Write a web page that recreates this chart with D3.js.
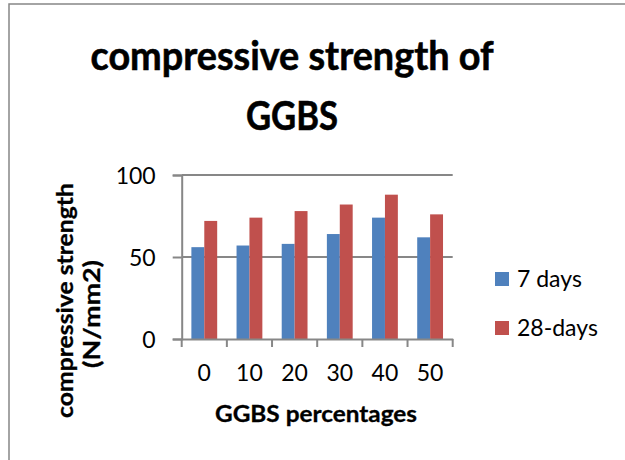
<!DOCTYPE html>
<html>
<head>
<meta charset="utf-8">
<script src="https://cdn.jsdelivr.net/npm/d3@7"></script>
<style>
  html, body { margin: 0; padding: 0; background: #fff; }
  svg { display: block; }
  text { font-family: Lato, "Open Sans", sans-serif; fill: #000; }
</style>
</head>
<body>
<script>
// ---- data ----
const categories = ["0", "10", "20", "30", "40", "50"];
const seriesNames = ["7 days", "28-days"];
const days7 = [56, 57, 58, 64, 74, 62];
const days28 = [72, 74, 78, 82, 88, 76];
const yTicks = [0, 50, 100];
const colors = ["#4F81BD", "#C0504D"];
const titleLines = ["compressive strength of", "GGBS"];
const yTitleLines = ["compressive strength", "(N/mm2)"];
const xTitle = "GGBS percentages";

const seriesValues = [days7, days28];
const W = 625, H = 460;
const plot = { left: 181.7, right: 452.7, top: 175, bottom: 339 };
const gridColor = "#878787";

const svg = d3.select("body").append("svg").attr("width", W).attr("height", H);

// outer chart border (extends past the bottom-right of the window)
svg.append("rect").attr("x", 9).attr("y", 4).attr("width", W).attr("height", H)
  .attr("fill", "#fff").attr("stroke", gridColor).attr("stroke-width", 1.5);

const x0 = d3.scaleBand().domain(categories).range([plot.left, plot.right]).paddingInner(0).paddingOuter(0);
const x1 = d3.scaleBand().domain(seriesNames).range([0, x0.bandwidth()]).paddingInner(0).paddingOuter(0.75);
const y = d3.scaleLinear().domain([0, 100]).range([plot.bottom, plot.top]);

// gridlines
svg.append("g").selectAll("line").data(yTicks.filter(d => d > 0)).join("line")
  .attr("x1", plot.left).attr("x2", plot.right)
  .attr("y1", d => y(d)).attr("y2", d => y(d))
  .attr("stroke", gridColor).attr("stroke-width", 2);

// bars
const groups = svg.append("g").selectAll("g").data(categories).join("g")
  .attr("transform", c => `translate(${x0(c)},0)`);
groups.selectAll("rect").data((c, i) => seriesNames.map((s, j) => ({ s, j, v: seriesValues[j][i] })))
  .join("rect")
  .attr("x", d => x1(d.s)).attr("width", x1.bandwidth())
  .attr("y", d => y(d.v)).attr("height", d => y(0) - y(d.v))
  .attr("fill", d => colors[d.j]);

// y axis
const yAxis = svg.append("g").attr("transform", `translate(${plot.left},0)`)
  .call(d3.axisLeft(y).tickValues(yTicks).tickSize(9).tickPadding(17).tickFormat(d3.format("d")));
yAxis.select(".domain").attr("stroke", gridColor).attr("stroke-width", 2);
yAxis.selectAll(".tick line").attr("stroke", gridColor).attr("stroke-width", 2);
yAxis.selectAll(".tick text").attr("font-size", 23).attr("font-family", "Lato").attr("dy", "0.36em");

// x axis
const xAxis = svg.append("g").attr("transform", `translate(0,${plot.bottom})`)
  .call(d3.axisBottom(x0).tickSize(0).tickPadding(26).tickSizeOuter(0));
xAxis.select(".domain").attr("stroke", gridColor).attr("stroke-width", 2);
xAxis.selectAll(".tick text").attr("font-size", 23).attr("font-family", "Lato");
const bounds = categories.map(c => x0(c)).concat([plot.right]);
svg.append("g").selectAll("line").data(bounds).join("line")
  .attr("x1", d => d).attr("x2", d => d)
  .attr("y1", plot.bottom).attr("y2", plot.bottom + 8)
  .attr("stroke", gridColor).attr("stroke-width", 2);

// title
const titleY = [70, 130];
const titleW = [403, 92];
titleLines.forEach((t, i) => {
  svg.append("text").attr("x", 292).attr("y", titleY[i]).attr("text-anchor", "middle")
    .attr("font-size", 40).attr("font-weight", "bold")
    .attr("stroke", "#000").attr("stroke-width", 0.6)
    .attr("textLength", titleW[i]).attr("lengthAdjust", "spacingAndGlyphs")
    .text(t);
});

// x title
svg.append("text").attr("x", 316).attr("y", 421.5).attr("text-anchor", "middle")
  .attr("font-size", 22).attr("font-weight", "bold")
  .attr("stroke", "#000").attr("stroke-width", 0.3)
  .attr("textLength", 202).attr("lengthAdjust", "spacingAndGlyphs")
  .text(xTitle);

// y title (rotated)
const yTitleX = [73, 100];
const yTitleCY = [300.5, 314];
const yTitleW = [235, 108];
yTitleLines.forEach((t, i) => {
  svg.append("text")
    .attr("transform", `translate(${yTitleX[i]},${yTitleCY[i]}) rotate(-90)`)
    .attr("text-anchor", "middle")
    .attr("font-size", 22).attr("font-weight", "bold")
    .attr("stroke", "#000").attr("stroke-width", 0.3)
    .attr("textLength", yTitleW[i]).attr("lengthAdjust", "spacingAndGlyphs")
    .text(t);
});

// legend
const legendY = [279, 328];
seriesNames.forEach((s, i) => {
  svg.append("rect").attr("x", 495).attr("y", legendY[i] - 7).attr("width", 14).attr("height", 14)
    .attr("fill", colors[i]);
  svg.append("text").attr("x", 517).attr("y", legendY[i]).attr("dy", "0.36em")
    .attr("font-size", 23).text(s);
});
</script>
</body>
</html>
